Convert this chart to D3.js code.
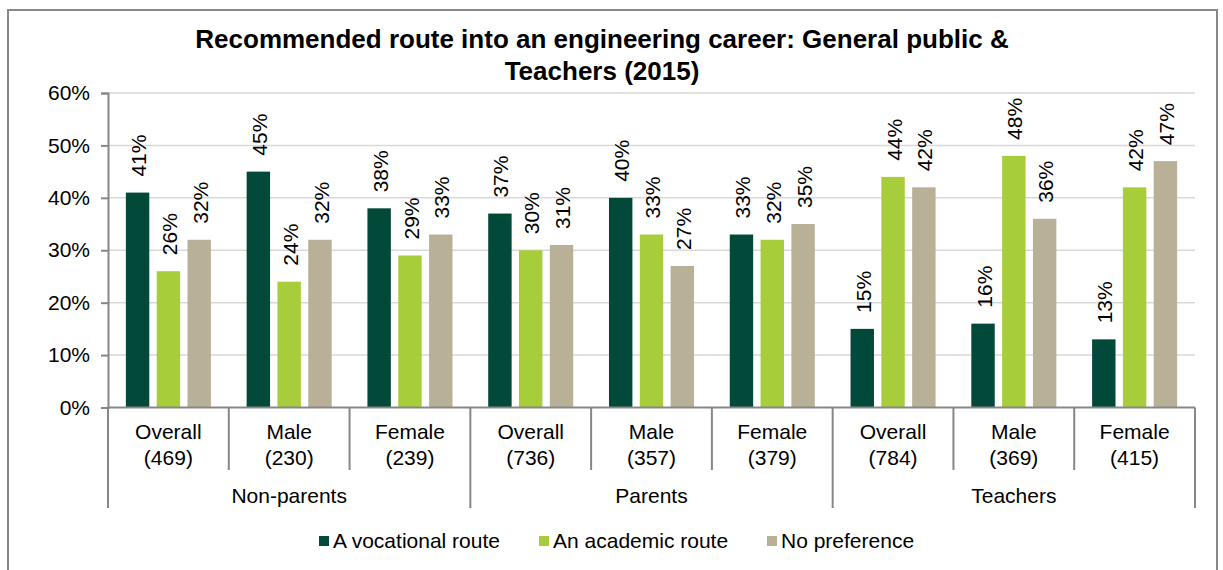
<!DOCTYPE html>
<html>
<head>
<meta charset="utf-8">
<script src="https://cdn.jsdelivr.net/npm/d3@7/dist/d3.min.js"></script>
<style>
  html, body { margin: 0; padding: 0; background: #fff; }
  svg { display: block; }
  text { font-family: "Liberation Sans", Arial, sans-serif; fill: #000; }
</style>
</head>
<body>
<svg id="chart" width="1223" height="570"></svg>
<script>
// ---- data ----
const groups = ["Non-parents", "Parents", "Teachers"];
const categories = ["Overall", "Male", "Female", "Overall", "Male", "Female", "Overall", "Male", "Female"];
const sampleSizes = ["(469)", "(230)", "(239)", "(736)", "(357)", "(379)", "(784)", "(369)", "(415)"];
const seriesNames = ["A vocational route", "An academic route", "No preference"];
const vocational = [41, 45, 38, 37, 40, 33, 15, 16, 13];
const academic   = [26, 24, 29, 30, 33, 32, 44, 48, 42];
const noPref     = [32, 32, 33, 31, 27, 35, 42, 36, 47];
const yTicks = [0, 10, 20, 30, 40, 50, 60];
const titleLines = ["Recommended route into an engineering career: General public &", "Teachers (2015)"];

const seriesValues = [vocational, academic, noPref];
const colors = ["#02493A", "#A7CD3A", "#B8B097"];

const svg = d3.select("#chart");
const plot = { left: 108, right: 1195, top: 93, bottom: 407.5 };
const FS = "21px";

// outer border
svg.append("rect").attr("x", 8).attr("y", 10).attr("width", 1209).attr("height", 620)
  .attr("fill", "none").attr("stroke", "#878787").attr("stroke-width", 2);

// title
const title = svg.append("text").attr("text-anchor", "middle")
  .style("font-weight", "bold").style("font-size", "26px");
titleLines.forEach((t, i) => {
  title.append("tspan").attr("x", 602).attr("y", 47.5 + i * 32).text(t);
});

// scales
const y = d3.scaleLinear().domain([0, 60]).range([plot.bottom, plot.top]);
const idx = d3.range(categories.length);
const x0 = d3.scaleBand().domain(idx).range([plot.left, plot.right]).paddingInner(0).paddingOuter(0);
const x1 = d3.scaleBand().domain(d3.range(3)).range([0, x0.bandwidth()]).paddingInner(0.24).paddingOuter(0.58);

// gridlines
svg.append("g").selectAll("line").data(yTicks.filter(d => d > 0)).join("line")
  .attr("x1", plot.left).attr("x2", plot.right)
  .attr("y1", d => y(d)).attr("y2", d => y(d))
  .attr("stroke", "#d9d9d9").attr("stroke-width", 1.5);

// y axis
const yAxis = d3.axisLeft(y).tickValues(yTicks).tickFormat(d => d + "%").tickSize(7).tickPadding(11);
const gy = svg.append("g").attr("transform", `translate(${plot.left},0)`).call(yAxis);
gy.select(".domain").attr("stroke", "#878787").attr("stroke-width", 2);
gy.selectAll(".tick line").attr("stroke", "#878787").attr("stroke-width", 2);
gy.selectAll(".tick text").style("font-size", FS).attr("fill", "#000")
  .style("font-family", "'Liberation Sans', Arial, sans-serif");

// bars
const barG = svg.append("g");
seriesValues.forEach((vals, s) => {
  barG.append("g").selectAll("rect").data(vals).join("rect")
    .attr("x", (d, i) => x0(i) + x1(s))
    .attr("width", x1.bandwidth())
    .attr("y", d => y(d))
    .attr("height", d => y(0) - y(d))
    .attr("fill", colors[s]);
});

// data labels
const labG = svg.append("g");
seriesValues.forEach((vals, s) => {
  labG.append("g").selectAll("text").data(vals).join("text")
    .attr("transform", (d, i) => `translate(${x0(i) + x1(s) + x1.bandwidth() / 2 + 1},${y(d) - 16}) rotate(-90)`)
    .attr("dy", "0.36em")
    .style("font-size", FS)
    .text(d => d + "%");
});

// x axis line
svg.append("line").attr("x1", plot.left - 1).attr("x2", plot.right)
  .attr("y1", plot.bottom).attr("y2", plot.bottom)
  .attr("stroke", "#878787").attr("stroke-width", 2);

// category tick lines
const boundaries = d3.range(categories.length + 1);
svg.append("g").selectAll("line").data(boundaries).join("line")
  .attr("x1", d => plot.left + d * x0.step()).attr("x2", d => plot.left + d * x0.step())
  .attr("y1", plot.bottom).attr("y2", d => d % 3 === 0 ? 508 : 470)
  .attr("stroke", "#878787").attr("stroke-width", 2);

// category labels
const catG = svg.append("g").attr("text-anchor", "middle").style("font-size", FS);
catG.selectAll("text.cat").data(categories).join("text").attr("class", "cat")
  .attr("x", (d, i) => x0(i) + x0.bandwidth() / 2).attr("y", 439).text(d => d);
catG.selectAll("text.n").data(sampleSizes).join("text").attr("class", "n")
  .attr("x", (d, i) => x0(i) + x0.bandwidth() / 2).attr("y", 465).text(d => d);

// group labels
svg.append("g").attr("text-anchor", "middle").style("font-size", FS)
  .selectAll("text").data(groups).join("text")
  .attr("x", (d, g) => plot.left + (g * 3 + 1.5) * x0.step())
  .attr("y", 503).text(d => d);

// legend
const legendX = [319, 539, 767];
const lg = svg.append("g");
seriesNames.forEach((name, s) => {
  lg.append("rect").attr("x", legendX[s]).attr("y", 536).attr("width", 10).attr("height", 10).attr("fill", colors[s]);
  lg.append("text").attr("x", legendX[s] + 14).attr("y", 548).style("font-size", FS).text(name);
});
</script>
</body>
</html>
